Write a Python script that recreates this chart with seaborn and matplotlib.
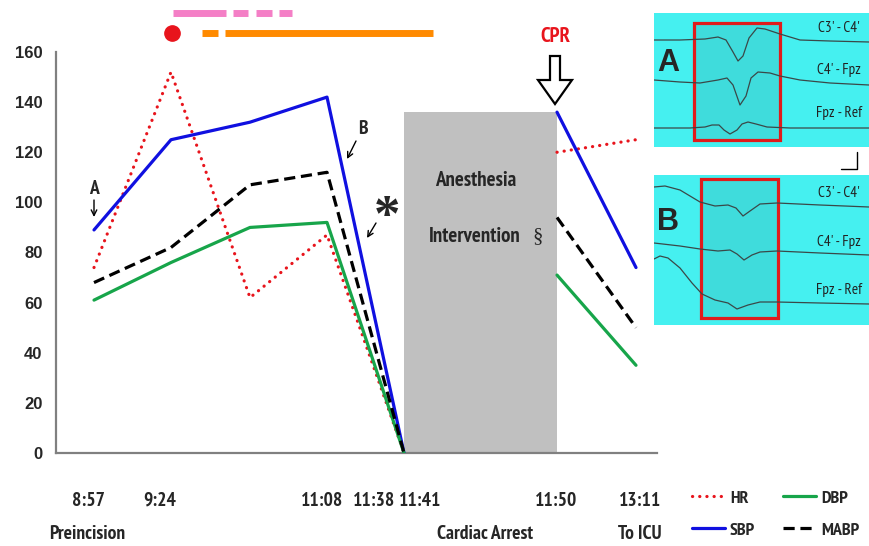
import numpy as np
import pandas as pd
import seaborn as sns
import matplotlib.pyplot as plt
import matplotlib.transforms as mtransforms
from matplotlib import font_manager
from matplotlib.patches import Rectangle, Polygon


# values (x in timeline units, left edge of axis = 0)
x_pos = [38, 115, 194, 271, 348, 501, 580]
segment = ['pre'] * 5 + ['post'] * 2
hr = [74, 152, 62, 87, 0, 120, 125]
sbp = [89, 125, 132, 142, 0, 136, 74]
dbp = [61, 76, 90, 92, 0, 71, 35]
mabp = [68, 82, 107, 112, 0, 94, 50]

tick_pos = [28, 106, 281, 303, 348, 501, 584]
tick_labels = ['8:57', '9:24', '11:08', '11:38', '11:41', '11:50', '13:11']
tick_shift = [4, -2, -15, 15, 16, -1, 0]
phase_pos = [31, 429, 584]
phase_labels = ['Preincision', 'Cardiac Arrest', 'To ICU']

arrest_window = [348, 501]
arrest_top = 136

pink_bars = [(117, 170), (177, 192), (200, 216), (223, 236)]
orange_bars = [(146, 162), (169, 377)]
event_dot = 116

# EEG snippets (inset pixel coords)
eeg_a = {
    "C3' - C4'": ([654, 680, 705, 718, 726, 733, 738, 743, 749, 757, 765, 780, 800, 830, 869],
                  [40, 40, 39, 37, 40, 52, 61, 56, 38, 28, 29, 34, 40, 41, 42]),
    "C4' - Fpz": ([654, 680, 700, 718, 727, 733, 740, 746, 751, 758, 770, 780, 800, 830, 869],
                  [80, 82, 83, 80, 78, 85, 105, 96, 78, 72, 73, 76, 80, 83, 85]),
    "Fpz - Ref": ([654, 690, 705, 712, 719, 724, 730, 737, 742, 748, 756, 767, 790, 869],
                  [128, 128, 127, 125, 125, 130, 134, 130, 124, 122, 124, 127, 128, 128]),
}
eeg_b = {
    "C3' - C4'": ([654, 665, 680, 700, 715, 728, 736, 743, 750, 760, 777, 820, 869],
                  [187, 186, 190, 202, 206, 205, 208, 216, 211, 204, 203, 205, 207]),
    "C4' - Fpz": ([654, 680, 700, 718, 730, 737, 744, 752, 760, 777, 820, 869],
                  [243, 246, 249, 251, 250, 254, 260, 255, 252, 251, 253, 255]),
    "Fpz - Ref": ([654, 660, 668, 680, 692, 702, 715, 728, 737, 748, 760, 777, 820, 869],
                  [259, 256, 258, 268, 283, 294, 300, 303, 309, 305, 302, 302, 303, 304]),
}

names = {f.name for f in font_manager.fontManager.ttflist}
NARROW = 'Liberation Sans'
for cand in ['Liberation Sans Narrow', 'Arial Narrow', 'PT Sans Narrow',
             'Roboto Condensed', 'Archivo Narrow']:
    if cand in names:
        NARROW = cand
        break

sns.set_style('white')
plt.rcParams['font.family'] = ['Liberation Sans', 'DejaVu Sans']

W, H = 869, 546
fig = plt.figure(figsize=(W / 100, H / 100), dpi=100)


def box(x0, y0, x1, y1):
    return [x0 / W, 1 - y1 / H, (x1 - x0) / W, (y1 - y0) / H]


ax = fig.add_axes(box(56, 52, 657, 453))

df = pd.DataFrame({
    'x': x_pos * 4,
    'value': hr + sbp + dbp + mabp,
    'series': ['HR'] * 7 + ['SBP'] * 7 + ['DBP'] * 7 + ['MABP'] * 7,
    'segment': segment * 4,
})

styles = {
    'HR': dict(color='#e8141c', linestyle=(0, (0.05, 2.2)), dash_capstyle='round', lw=2.3),
    'SBP': dict(color='#1010e0', linestyle='-', lw=2.3),
    'DBP': dict(color='#17a54a', linestyle='-', lw=2.3),
    'MABP': dict(color='black', linestyle=(0, (3.5, 1.8)), lw=2.3),
}

ax.fill_between(arrest_window, 0, arrest_top, color='#c0c0c0', lw=0, zorder=1)

for name in ['HR', 'SBP', 'DBP', 'MABP']:
    for k, seg in enumerate(['pre', 'post']):
        sub = df[(df.series == name) & (df.segment == seg)]
        sns.lineplot(data=sub, x='x', y='value', ax=ax, legend=False,
                     label=name if k == 0 else None, zorder=3, **styles[name])

ax.set_xlim(0, 601)
ax.set_ylim(0, 160)
ax.set_xlabel('')
ax.set_ylabel('')
ax.set_yticks(range(0, 161, 20))
ax.set_xticks(tick_pos, tick_labels)
ax.set_xticks(np.arange(77.5, 601, 77.5), minor=True)
sns.despine(ax=ax)
for s in ['left', 'bottom']:
    ax.spines[s].set_color('#808080')
    ax.spines[s].set_linewidth(1.6)

ax.tick_params(axis='y', direction='out', length=4.3, width=1.1, color='#808080',
               pad=5.5, labelsize=12)
ax.tick_params(axis='x', which='major', direction='out', length=16, width=1.1,
               color='#808080', pad=12, labelsize=14)
ax.tick_params(axis='x', which='minor', direction='out', length=2.2, width=1.0,
               color='#909090')
for lbl in ax.get_yticklabels():
    lbl.set_fontweight('bold')
for lbl, dx in zip(ax.get_xticklabels(), tick_shift):
    lbl.set_fontweight('bold')
    lbl.set_family(NARROW)
    lbl.set_transform(lbl.get_transform() +
                      mtransforms.ScaledTranslation(dx / 100, 0, fig.dpi_scale_trans))

for xp, lab in zip(phase_pos, phase_labels):
    ax.text(xp, -32.3, lab, ha='center', va='center', fontsize=14,
            fontweight='bold', family=NARROW, clip_on=False)

# timeline bars above the plot
for a, b in pink_bars:
    ax.plot([a, b], [175.7, 175.7], color='#f47fc6', lw=5, solid_capstyle='butt',
            clip_on=False)
for a, b in orange_bars:
    ax.plot([a, b], [167.6, 167.6], color='#ff8a00', lw=5, solid_capstyle='butt',
            clip_on=False)
ax.plot([event_dot], [167.6], 'o', ms=11, color='#e8141c', clip_on=False)

# legend
handles, labels = ax.get_legend_handles_labels()
hmap = dict(zip(labels, handles))
order = ['HR', 'SBP', 'DBP', 'MABP']
fig.legend([hmap[k] for k in order], order, ncol=2, loc='upper left',
           bbox_to_anchor=(692 / W, 1 - 490 / H), frameon=False,
           handlelength=1.8, handletextpad=0.3, columnspacing=1.55,
           labelspacing=0.85, borderpad=0, borderaxespad=0,
           prop=dict(family=NARROW, weight='bold', size=13))

# overlay for annotations in pixel space
ov = fig.add_axes([0, 0, 1, 1], zorder=5)
ov.set_xlim(0, W)
ov.set_ylim(H, 0)
ov.axis('off')

ov.text(555, 37, 'CPR', color='#e8141c', ha='center', va='center', fontsize=15,
        fontweight='bold', family=NARROW)
ov.add_patch(Polygon([(550, 56), (560, 56), (560, 80), (572, 80), (555, 104),
                      (538, 80), (550, 80)], closed=True, fc='white', ec='black', lw=1.6))
ov.text(476, 181, 'Anesthesia', ha='center', va='center', fontsize=15,
        fontweight='bold', family=NARROW)
ov.text(475, 237, 'Intervention', ha='center', va='center', fontsize=15,
        fontweight='bold', family=NARROW)
ov.text(538, 237, '§', ha='center', va='center', fontsize=15, family='Liberation Serif')

arr = dict(arrowstyle='->', lw=1, color='black', shrinkA=0, shrinkB=0)
ov.text(94, 189, 'A', ha='center', va='center', fontsize=14, fontweight='bold', family=NARROW)
ov.annotate('', xy=(94, 217), xytext=(94, 200), arrowprops=arr)
ov.text(363, 129, 'B', ha='center', va='center', fontsize=14, fontweight='bold', family=NARROW)
ov.annotate('', xy=(347, 159), xytext=(356, 141), arrowprops=arr)
ov.text(387, 218, '*', ha='center', va='center', fontsize=38, fontweight='bold',
        family='Liberation Serif')
ov.annotate('', xy=(367, 238), xytext=(376, 223), arrowprops=arr)

# scale bar between the EEG panels
ov.plot([841, 857, 857], [169, 169, 152], color='black', lw=1)

# EEG insets
panels = [('A', 13, 147, (694, 23, 780, 140), eeg_a, [28, 70, 113], 63),
          ('B', 175, 325, (701, 179, 778, 318), eeg_b, [193, 242, 290], 222)]
for letter, top, bottom, rb, traces, lab_y, let_y in panels:
    axi = fig.add_axes(box(654, top, 869, bottom))
    axi.set_xlim(654, 869)
    axi.set_ylim(bottom, top)
    axi.set_facecolor('#45f0f0')
    axi.set_xticks([])
    axi.set_yticks([])
    for s in axi.spines.values():
        s.set_visible(False)
    axi.add_patch(Rectangle((rb[0], rb[1]), rb[2] - rb[0], rb[3] - rb[1],
                            fc='#3fdcdc', ec='#e01b1b', lw=2.3, zorder=1))
    for (chan, (xs, ys)), ly in zip(traces.items(), lab_y):
        axi.plot(xs, ys, color='#3a4848', lw=0.9, zorder=2)
        axi.text(839, ly, chan, ha='center', va='center', fontsize=11,
                 family=NARROW, color='#222222', zorder=3)
    axi.text(668, let_y, letter, ha='center', va='center', fontsize=22,
             fontweight='bold', zorder=3)

fig.savefig('out.png', dpi=100)
